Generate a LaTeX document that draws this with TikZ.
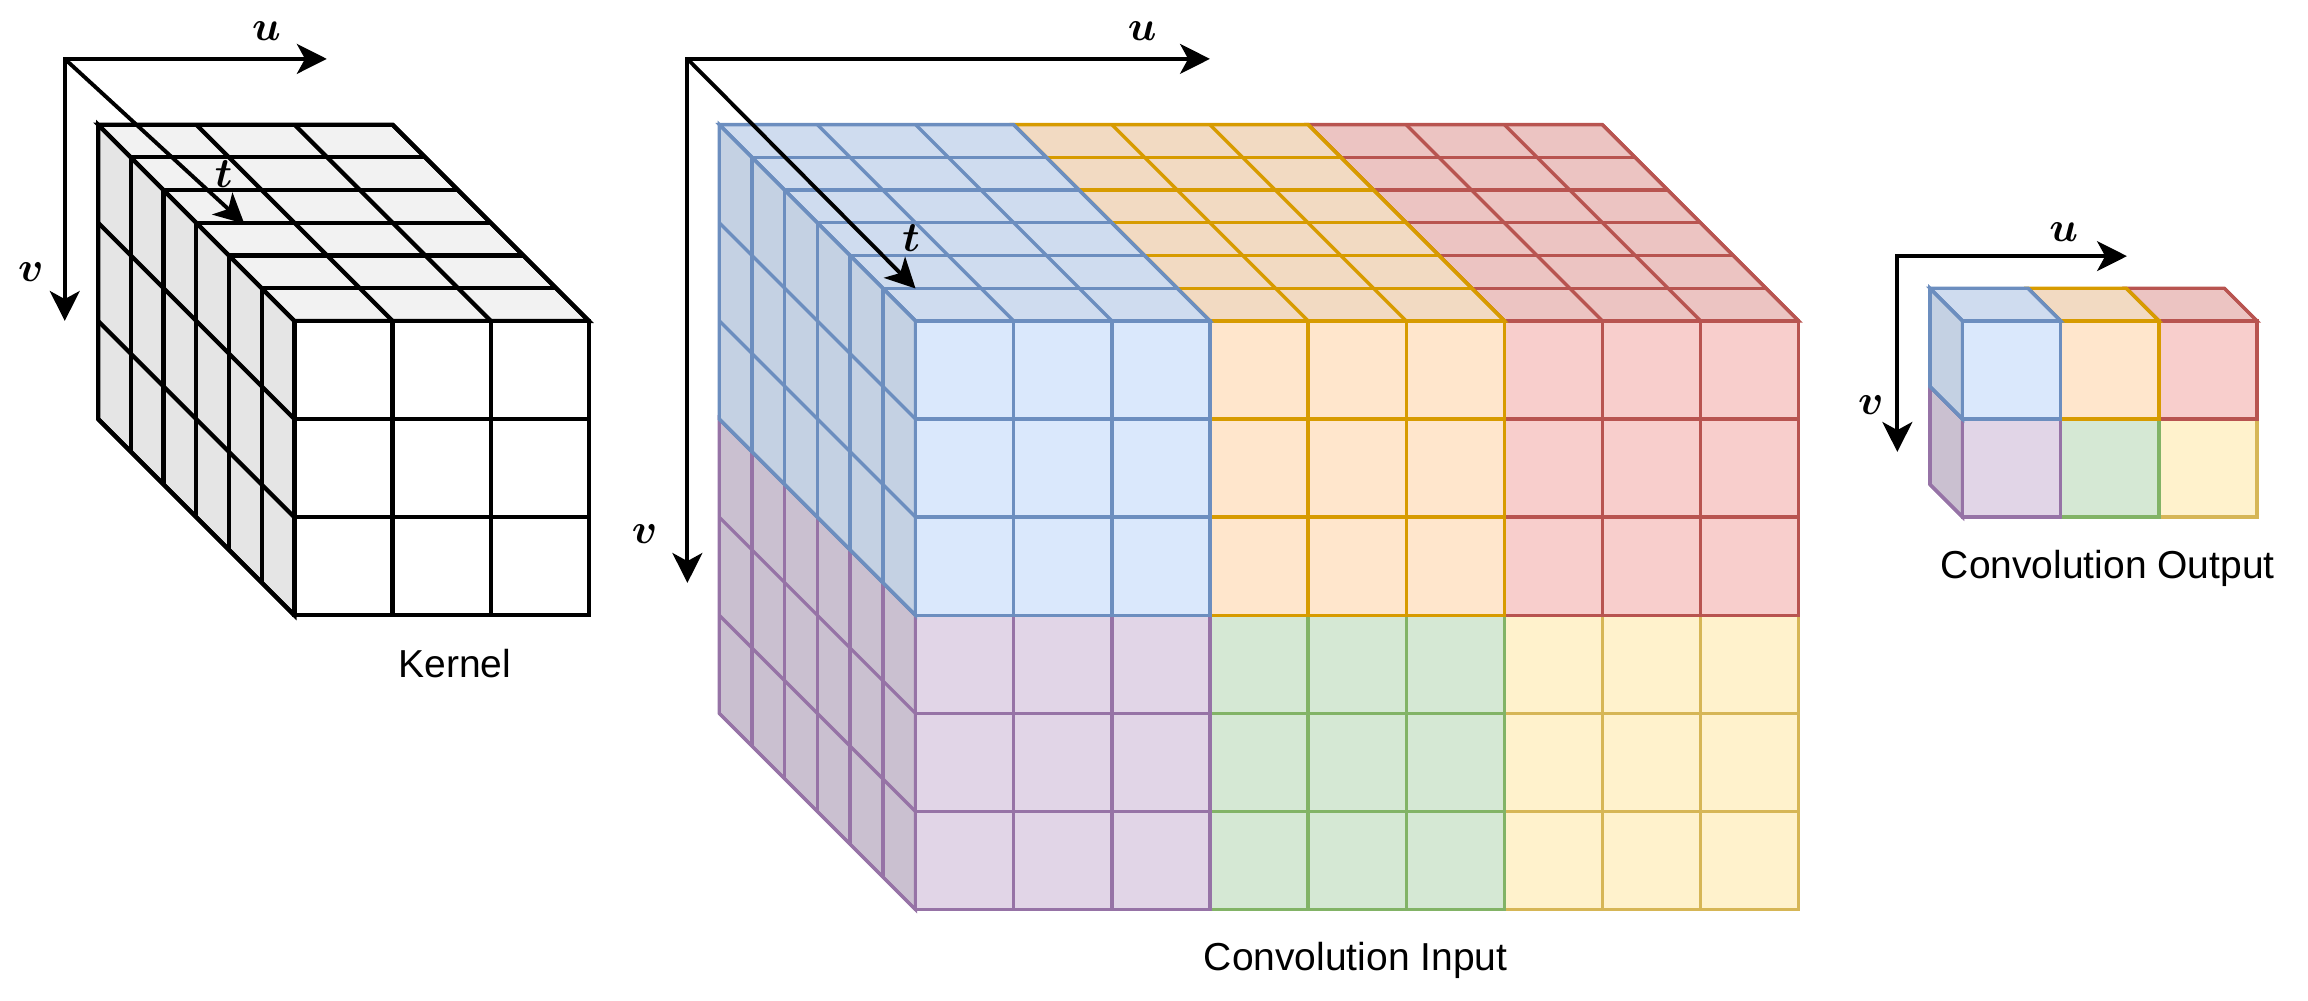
\documentclass[tikz,border=0pt]{standalone}
\usepackage{fontspec}
\usepackage{amsmath,bm}
\usetikzlibrary{arrows.meta}
\newfontfamily\labelfont{Liberation Sans}

\definecolor{kernelFill}{HTML}{FFFFFF}\definecolor{kernelLine}{HTML}{000000}
\definecolor{blueFill}{HTML}{DAE8FC}\definecolor{blueLine}{HTML}{6C8EBF}
\definecolor{orangeFill}{HTML}{FFE6CC}\definecolor{orangeLine}{HTML}{D79B00}
\definecolor{redFill}{HTML}{F8CECC}\definecolor{redLine}{HTML}{B85450}
\definecolor{purpleFill}{HTML}{E1D5E7}\definecolor{purpleLine}{HTML}{9673A6}
\definecolor{greenFill}{HTML}{D5E8D4}\definecolor{greenLine}{HTML}{82B366}
\definecolor{yellowFill}{HTML}{FFF2CC}\definecolor{yellowLine}{HTML}{D6B656}

% cell size and depth step
\newcommand{\cs}{66.67}
\newcommand{\ds}{22.22}

% front face: x, y, cells, colour
\newcommand{\cellfront}[4]{%
  \filldraw[fill=#4Fill, draw=#4Line] (#1,#2) rectangle ++(#3*\cs,#3*\cs);
  \foreach \i in {0,...,#3}{
    \draw[#4Line] (#1+\i*\cs,#2) -- ++(0,#3*\cs);
    \draw[#4Line] (#1,#2+\i*\cs) -- ++(#3*\cs,0);
  }
}
% top face: x, y, cells, depth, colour
\newcommand{\celltop}[5]{%
  \filldraw[fill=#5Fill!95!black, draw=#5Line] (#1,#2) -- ++(#3*\cs,0)
    -- ++(-#4*\ds,-#4*\ds) -- ++(-#3*\cs,0) -- cycle;
  \foreach \k in {0,...,#4}
    \draw[#5Line] (#1-\k*\ds,#2-\k*\ds) -- ++(#3*\cs,0);
  \foreach \i in {0,...,#3}
    \draw[#5Line] (#1+\i*\cs,#2) -- ++(-#4*\ds,-#4*\ds);
}
% side face: x, y, cells, depth, colour
\newcommand{\cellside}[5]{%
  \filldraw[fill=#5Fill!90!black, draw=#5Line] (#1,#2) -- ++(0,#3*\cs)
    -- ++(-#4*\ds,-#4*\ds) -- ++(0,-#3*\cs) -- cycle;
  \foreach \k in {0,...,#4}
    \draw[#5Line] (#1-\k*\ds,#2-\k*\ds) -- ++(0,#3*\cs);
  \foreach \j in {0,...,#3}
    \draw[#5Line] (#1,#2+\j*\cs) -- ++(-#4*\ds,-#4*\ds);
}

\begin{document}
\begin{tikzpicture}[x=0.01472cm, y=-0.01472cm, line width=0.95pt,
    >={Stealth[length=8.5pt, width=8.5pt, inset=2.3pt]},
    axis/.style={<->, line width=1.1pt},
    depth axis/.style={->, line width=1.1pt},
    axis label/.style={font=\fontsize{12}{14}\selectfont},
    caption/.style={font=\labelfont\fontsize{11.1}{13.3}\selectfont, anchor=base}]
    \useasboundingbox (0,0) rectangle (1568,680);

    % kernel
    \begin{scope}[line width=1.2pt]
        \cellside{200}{218}{3}{6}{kernel}
        \celltop{200}{218}{3}{6}{kernel}
        \cellfront{200}{218}{3}{kernel}
    \end{scope}
    \coordinate (kO) at (44,40);
    \coordinate (kU) at (222,40);
    \coordinate (kV) at (44,218);
    \coordinate (kT) at (166,152);
    \draw[axis] (kV) -- (kO) -- (kU);
    \draw[depth axis] (kO) -- (kT);
    \node[axis label] (ku) at (181,21) {$\bm{u}$};
    \node[axis label] (kv) at (21,185) {$\bm{v}$};
    \node[axis label] (kt) at (152,118) {$\bm{t}$};
    \node[caption] (kernel) at (309,460.5) {Kernel};

    % convolution input
    \cellfront{1022}{418}{3}{yellow}
    \cellfront{822}{418}{3}{green}
    \cellside{622}{418}{3}{6}{purple}
    \cellfront{622}{418}{3}{purple}
    \celltop{1022}{218}{3}{6}{red}
    \cellfront{1022}{218}{3}{red}
    \celltop{822}{218}{3}{6}{orange}
    \cellfront{822}{218}{3}{orange}
    \cellside{622}{218}{3}{6}{blue}
    \celltop{622}{218}{3}{6}{blue}
    \cellfront{622}{218}{3}{blue}
    \coordinate (iO) at (467,40);
    \coordinate (iU) at (822,40);
    \coordinate (iV) at (467,396);
    \coordinate (iT) at (622,196);
    \draw[axis] (iV) -- (iO) -- (iU);
    \draw[depth axis] (iO) -- (iT);
    \node[axis label] (iu) at (776,21) {$\bm{u}$};
    \node[axis label] (iv) at (438,363) {$\bm{v}$};
    \node[axis label] (it) at (619,162) {$\bm{t}$};
    \node[caption] (input) at (921,659.5) {Convolution Input};

    % convolution output
    \cellfront{1466.67}{284.67}{1}{yellow}
    \cellfront{1400}{284.67}{1}{green}
    \cellside{1333.33}{284.67}{1}{1}{purple}
    \cellfront{1333.33}{284.67}{1}{purple}
    \celltop{1466.67}{218}{1}{1}{red}
    \cellfront{1466.67}{218}{1}{red}
    \celltop{1400}{218}{1}{1}{orange}
    \cellfront{1400}{218}{1}{orange}
    \cellside{1333.33}{218}{1}{1}{blue}
    \celltop{1333.33}{218}{1}{1}{blue}
    \cellfront{1333.33}{218}{1}{blue}
    \coordinate (oO) at (1289,174);
    \coordinate (oU) at (1445,174);
    \coordinate (oV) at (1289,307);
    \draw[axis] (oV) -- (oO) -- (oU);
    \node[axis label] (ou) at (1402,158) {$\bm{u}$};
    \node[axis label] (ov) at (1271,275) {$\bm{v}$};
    \node[caption] (output) at (1432,393) {Convolution Output};
\end{tikzpicture}
\end{document}
